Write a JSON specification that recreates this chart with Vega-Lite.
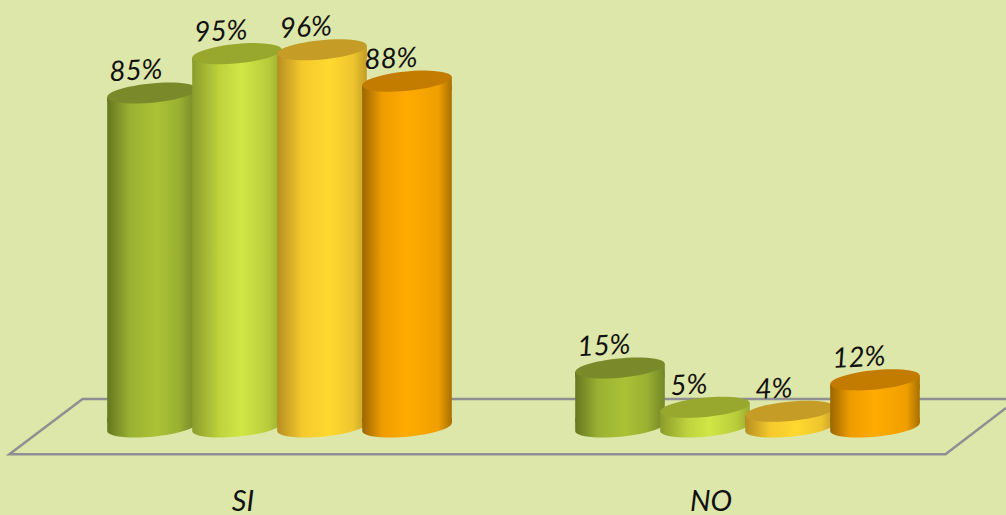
{"$schema":"https://vega.github.io/schema/vega-lite/v6.json","width":1006,"height":515,"padding":0,"autosize":{"type":"none"},"background":"#dde7a9","config":{"view":{"stroke":null}},
"datasets":{"vals":[
{"cat":"SI","serie":"A","v":85,"label":"85%"},{"cat":"SI","serie":"B","v":95,"label":"95%"},{"cat":"SI","serie":"C","v":96,"label":"96%"},{"cat":"SI","serie":"D","v":88,"label":"88%"},
{"cat":"NO","serie":"A","v":15,"label":"15%"},{"cat":"NO","serie":"B","v":5,"label":"5%"},{"cat":"NO","serie":"C","v":4,"label":"4%"},{"cat":"NO","serie":"D","v":12,"label":"12%"}],
"floor":[{"o":1,"u":2.145,"p":7.12},{"o":2,"u":0.176,"p":7.12},{"o":3,"u":0.02,"p":-6.95},{"o":4,"u":2.016,"p":-6.95},{"o":5,"u":2.145,"p":4.83}]},
"resolve":{"scale":{"x":"independent"}},
"layer":[
{"data":{"name":"floor"},"mark":{"type":"line","color":"#8f8f93","strokeWidth":2.5},"encoding":{"x":{"field":"u","type":"quantitative","scale":{"domain":[0,2.145],"nice":false,"zero":false},"axis":null},"y":{"field":"p","type":"quantitative","scale":{"domain":[-22.39,108.65],"nice":false,"zero":false},"axis":null},"order":{"field":"o"}}},
{"data":{"name":"vals"},
"encoding":{"x":{"field":"cat","type":"nominal","sort":["SI","NO"],"title":null,"scale":{"paddingInner":0,"paddingOuter":0.0748,"align":0.65},"axis":{"orient":"bottom","domain":false,"ticks":false,"labelAngle":0,"labelFontSize":29,"labelFont":"Lato","labelFontStyle":"italic","labelColor":"#111","labelOffset":-36.5,"offset":-28,"labelPadding":0,"grid":false}},
"xOffset":{"field":"serie","type":"nominal","sort":["A","B","C","D"],"scale":{"paddingInner":0,"paddingOuter":0.753}},
"y":{"field":"v","type":"quantitative","stack":null,"scale":{"domain":[-22.39,108.65],"nice":false,"zero":false},"axis":null}},
"layer":[
{"transform":[{"filter":"datum.serie=='A'"}],"layer":[
{"mark":{"type":"point","filled":true,"opacity":1,"size":8100,"shape":"M-0.9954,0.0958 A1,0.215 -5.5 1,0 0.9954,-0.0958 L0.9954,-0.2 L-0.9954,-0.2 Z","fill":{"gradient":"linear","x1":0,"x2":1,"y1":0,"y2":0,"stops":[{"offset":0,"color":"#66761f"},{"offset":0.25,"color":"#9ab032"},{"offset":0.55,"color":"#abc236"},{"offset":0.8,"color":"#9ab031"},{"offset":1,"color":"#748628"}]}},"encoding":{"y":{"datum":0}}},
{"mark":{"type":"bar","width":89.6,"yOffset":4.3,"y2Offset":-4.3,"fill":{"gradient":"linear","x1":0,"x2":1,"y1":0,"y2":0,"stops":[{"offset":0,"color":"#66761f"},{"offset":0.25,"color":"#9ab032"},{"offset":0.55,"color":"#abc236"},{"offset":0.8,"color":"#9ab031"},{"offset":1,"color":"#748628"}]}},"encoding":{"y2":{"datum":0}}},
{"mark":{"type":"point","filled":true,"opacity":1,"size":8100,"shape":"M-0.9954,0.0958 L0.9954,-0.0958 L0.9954,0.2 L-0.9954,0.2 Z","fill":{"gradient":"linear","x1":0,"x2":1,"y1":0,"y2":0,"stops":[{"offset":0,"color":"#66761f"},{"offset":0.25,"color":"#9ab032"},{"offset":0.55,"color":"#abc236"},{"offset":0.8,"color":"#9ab031"},{"offset":1,"color":"#748628"}]}}},
{"mark":{"type":"point","filled":true,"opacity":1,"size":8100,"shape":"M-0.9954,0.0958 A1,0.215 -5.5 1,1 0.9954,-0.0958 A1,0.215 -5.5 1,1 -0.9954,0.0958 Z","fill":"#7a8a2a"}}
]},
{"transform":[{"filter":"datum.serie=='B'"}],"layer":[
{"mark":{"type":"point","filled":true,"opacity":1,"size":8100,"shape":"M-0.9954,0.0958 A1,0.215 -5.5 1,0 0.9954,-0.0958 L0.9954,-0.2 L-0.9954,-0.2 Z","fill":{"gradient":"linear","x1":0,"x2":1,"y1":0,"y2":0,"stops":[{"offset":0,"color":"#8a9c2b"},{"offset":0.3,"color":"#bdd23d"},{"offset":0.55,"color":"#d0e746"},{"offset":0.85,"color":"#b8cc3b"},{"offset":1,"color":"#99ac30"}]}},"encoding":{"y":{"datum":0}}},
{"mark":{"type":"bar","width":89.6,"yOffset":4.3,"y2Offset":-4.3,"fill":{"gradient":"linear","x1":0,"x2":1,"y1":0,"y2":0,"stops":[{"offset":0,"color":"#8a9c2b"},{"offset":0.3,"color":"#bdd23d"},{"offset":0.55,"color":"#d0e746"},{"offset":0.85,"color":"#b8cc3b"},{"offset":1,"color":"#99ac30"}]}},"encoding":{"y2":{"datum":0}}},
{"mark":{"type":"point","filled":true,"opacity":1,"size":8100,"shape":"M-0.9954,0.0958 L0.9954,-0.0958 L0.9954,0.2 L-0.9954,0.2 Z","fill":{"gradient":"linear","x1":0,"x2":1,"y1":0,"y2":0,"stops":[{"offset":0,"color":"#8a9c2b"},{"offset":0.3,"color":"#bdd23d"},{"offset":0.55,"color":"#d0e746"},{"offset":0.85,"color":"#b8cc3b"},{"offset":1,"color":"#99ac30"}]}}},
{"mark":{"type":"point","filled":true,"opacity":1,"size":8100,"shape":"M-0.9954,0.0958 A1,0.215 -5.5 1,1 0.9954,-0.0958 A1,0.215 -5.5 1,1 -0.9954,0.0958 Z","fill":"#98a82f"}}
]},
{"transform":[{"filter":"datum.serie=='C'"}],"layer":[
{"mark":{"type":"point","filled":true,"opacity":1,"size":8100,"shape":"M-0.9954,0.0958 A1,0.215 -5.5 1,0 0.9954,-0.0958 L0.9954,-0.2 L-0.9954,-0.2 Z","fill":{"gradient":"linear","x1":0,"x2":1,"y1":0,"y2":0,"stops":[{"offset":0,"color":"#b58e22"},{"offset":0.28,"color":"#f5c92d"},{"offset":0.58,"color":"#ffd92f"},{"offset":0.85,"color":"#eec52e"},{"offset":1,"color":"#c29c27"}]}},"encoding":{"y":{"datum":0}}},
{"mark":{"type":"bar","width":89.6,"yOffset":4.3,"y2Offset":-4.3,"fill":{"gradient":"linear","x1":0,"x2":1,"y1":0,"y2":0,"stops":[{"offset":0,"color":"#b58e22"},{"offset":0.28,"color":"#f5c92d"},{"offset":0.58,"color":"#ffd92f"},{"offset":0.85,"color":"#eec52e"},{"offset":1,"color":"#c29c27"}]}},"encoding":{"y2":{"datum":0}}},
{"mark":{"type":"point","filled":true,"opacity":1,"size":8100,"shape":"M-0.9954,0.0958 L0.9954,-0.0958 L0.9954,0.2 L-0.9954,0.2 Z","fill":{"gradient":"linear","x1":0,"x2":1,"y1":0,"y2":0,"stops":[{"offset":0,"color":"#b58e22"},{"offset":0.28,"color":"#f5c92d"},{"offset":0.58,"color":"#ffd92f"},{"offset":0.85,"color":"#eec52e"},{"offset":1,"color":"#c29c27"}]}}},
{"mark":{"type":"point","filled":true,"opacity":1,"size":8100,"shape":"M-0.9954,0.0958 A1,0.215 -5.5 1,1 0.9954,-0.0958 A1,0.215 -5.5 1,1 -0.9954,0.0958 Z","fill":"#c49c26"}}
]},
{"transform":[{"filter":"datum.serie=='D'"}],"layer":[
{"mark":{"type":"point","filled":true,"opacity":1,"size":8100,"shape":"M-0.9954,0.0958 A1,0.215 -5.5 1,0 0.9954,-0.0958 L0.9954,-0.2 L-0.9954,-0.2 Z","fill":{"gradient":"linear","x1":0,"x2":1,"y1":0,"y2":0,"stops":[{"offset":0,"color":"#9c6600"},{"offset":0.22,"color":"#ee9c00"},{"offset":0.5,"color":"#ffab00"},{"offset":0.85,"color":"#f09f00"},{"offset":1,"color":"#a87000"}]}},"encoding":{"y":{"datum":0}}},
{"mark":{"type":"bar","width":89.6,"yOffset":4.3,"y2Offset":-4.3,"fill":{"gradient":"linear","x1":0,"x2":1,"y1":0,"y2":0,"stops":[{"offset":0,"color":"#9c6600"},{"offset":0.22,"color":"#ee9c00"},{"offset":0.5,"color":"#ffab00"},{"offset":0.85,"color":"#f09f00"},{"offset":1,"color":"#a87000"}]}},"encoding":{"y2":{"datum":0}}},
{"mark":{"type":"point","filled":true,"opacity":1,"size":8100,"shape":"M-0.9954,0.0958 L0.9954,-0.0958 L0.9954,0.2 L-0.9954,0.2 Z","fill":{"gradient":"linear","x1":0,"x2":1,"y1":0,"y2":0,"stops":[{"offset":0,"color":"#9c6600"},{"offset":0.22,"color":"#ee9c00"},{"offset":0.5,"color":"#ffab00"},{"offset":0.85,"color":"#f09f00"},{"offset":1,"color":"#a87000"}]}}},
{"mark":{"type":"point","filled":true,"opacity":1,"size":8100,"shape":"M-0.9954,0.0958 A1,0.215 -5.5 1,1 0.9954,-0.0958 A1,0.215 -5.5 1,1 -0.9954,0.0958 Z","fill":"#c47c00"}}
]},
{"mark":{"type":"text","dx":-15,"dy":-22,"angle":-3,"font":"Lato","fontStyle":"italic","fontSize":28,"color":"#111","align":"center","baseline":"middle"},"encoding":{"text":{"field":"label","type":"nominal"}}}
]}
]}
